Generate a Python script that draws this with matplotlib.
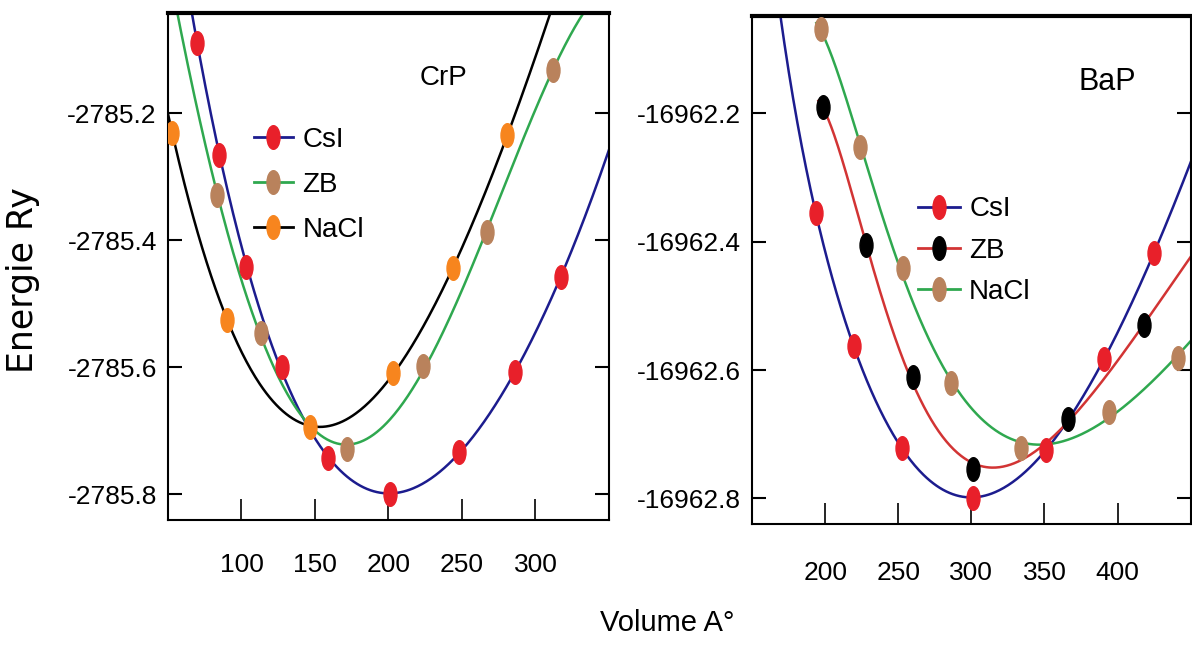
import numpy as np
import matplotlib.pyplot as plt
from matplotlib.path import Path
from matplotlib.lines import Line2D
from matplotlib.ticker import FormatStrFormatter
from numpy.polynomial import Polynomial

sans = ['Liberation Sans', 'DejaVu Sans']

# CrP : volume / energie
crp_csi_v = [70.0, 85.0, 103.4, 127.3, 158.7, 201.0, 248.1, 286.3, 317.1]
crp_csi_e = [-2785.089, -2785.266, -2785.442, -2785.600, -2785.743, -2785.800, -2785.734, -2785.607, -2785.458]
crp_zb_v = [83.6, 113.0, 171.7, 223.5, 267.2, 311.6]
crp_zb_e = [-2785.329, -2785.546, -2785.729, -2785.598, -2785.387, -2785.132]
crp_nacl_v = [52.9, 90.4, 146.4, 203.1, 244.0, 280.9]
crp_nacl_e = [-2785.231, -2785.525, -2785.694, -2785.609, -2785.444, -2785.234]

# BaP
bap_csi_v = [193.6, 219.5, 252.3, 301.4, 351.1, 390.7, 424.8]
bap_csi_e = [-16962.355, -16962.563, -16962.721, -16962.799, -16962.724, -16962.583, -16962.418]
bap_zb_v = [198.4, 227.7, 259.8, 301.4, 366.1, 418.0]
bap_zb_e = [-16962.190, -16962.405, -16962.611, -16962.754, -16962.676, -16962.530]
bap_nacl_v = [197.0, 223.6, 253.0, 286.4, 334.1, 394.1, 441.1]
bap_nacl_e = [-16962.069, -16962.253, -16962.441, -16962.620, -16962.721, -16962.665, -16962.581]

crp_xticks = [100, 150, 200, 250, 300]
crp_yticks = [-2785.2, -2785.4, -2785.6, -2785.8]
bap_xticks = [200, 250, 300, 350, 400]
bap_yticks = [-16962.2, -16962.4, -16962.6, -16962.8]

# marqueur ellipse (plus haut que large)
circ = Path.unit_circle()
ell = Path(circ.vertices * [0.55, 1.0], circ.codes)

navy = '#1c1c8e'
red = '#e8202a'
green = '#2fa84f'
brown = '#b9825c'
orange = '#f7851e'
redline = '#d23434'


def fit_curve(v, e, vmin, vmax, kind):
    v = np.array(v)
    vv = np.linspace(vmin, vmax, 400)
    if kind == 'bm':
        # polynome de degre 4 en V^(-2/3) (forme Birch-Murnaghan etendue)
        p = Polynomial.fit(v ** (-2.0 / 3), e, 4)
        return vv, p(vv ** (-2.0 / 3))
    p = Polynomial.fit(v, e, 4)
    return vv, p(vv)


def draw(ax, series, xlim, ylim, kind):
    # margin = prolongement de la courbe a gauche du premier point
    for v, e, lc, mc, margin in series:
        vv, ee = fit_curve(v, e, max(xlim[0], v[0] - margin), xlim[1], kind)
        ax.plot(vv, ee, color=lc, lw=1.8, zorder=2)
        ax.plot(v, e, ls='none', marker=ell, ms=17, color=mc, mec=mc, zorder=3)
    ax.set_xlim(*xlim)
    ax.set_ylim(*ylim)
    ax.tick_params(axis='x', direction='in', length=15, width=1.2, pad=24, labelsize=19)
    ax.tick_params(axis='y', direction='in', length=10, width=1.5, pad=8, labelsize=19,
                   right=True)
    for s in ['left', 'right', 'bottom']:
        ax.spines[s].set_linewidth(1.5)
    ax.spines['top'].set_linewidth(3)


plt.rcParams['font.family'] = sans
fig = plt.figure(figsize=(11.92, 6.48), dpi=100)
ax1 = fig.add_axes([0.1409, 0.1983, 0.3700, 0.7816])
ax2 = fig.add_axes([0.6309, 0.1914, 0.3680, 0.7839])

draw(ax1, [(crp_csi_v, crp_csi_e, navy, red, 100),
           (crp_zb_v, crp_zb_e, green, brown, 100),
           (crp_nacl_v, crp_nacl_e, 'black', orange, 100)],
     (50, 350), (-2785.840, -2785.042), 'poly')
ax1.set_xticks(crp_xticks)
ax1.set_yticks(crp_yticks)
ax1.yaxis.set_major_formatter(FormatStrFormatter('%.1f'))

draw(ax2, [(bap_csi_v, bap_csi_e, navy, red, 40),
           (bap_zb_v, bap_zb_e, redline, 'black', 3),
           (bap_nacl_v, bap_nacl_e, green, brown, 3)],
     (150, 450), (-16962.840, -16962.048), 'bm')
ax2.set_xticks(bap_xticks)
ax2.set_yticks(bap_yticks)
ax2.yaxis.set_major_formatter(FormatStrFormatter('%.1f'))
ax2.tick_params(axis='x', pad=27)


# legendes
def handles(items):
    return [Line2D([], [], color=lc, lw=2, marker=ell, ms=17, mfc=mc, mec=mc)
            for lc, mc in items]


ax1.legend(handles([(navy, red), (green, brown), ('black', orange)]),
           ['CsI', 'ZB', 'NaCl'], loc='upper left', bbox_to_anchor=(0.195, 0.775),
           frameon=False, borderpad=0, borderaxespad=0, handlelength=1.4,
           handletextpad=0.35, labelspacing=0.68, prop={'size': 20})
ax2.legend(handles([(navy, red), (redline, 'black'), (green, brown)]),
           ['CsI', 'ZB', 'NaCl'], loc='upper left', bbox_to_anchor=(0.378, 0.645),
           frameon=False, borderpad=0, borderaxespad=0, handlelength=1.5,
           handletextpad=0.35, labelspacing=0.55, prop={'size': 20})

ax1.text(0.624, 0.872, 'CrP', transform=ax1.transAxes, ha='center', va='center',
         fontsize=20)
ax2.text(0.81, 0.87, 'BaP', transform=ax2.transAxes, ha='center', va='center',
         fontsize=22)

fig.text(0.019, 0.568, 'Energie Ry', rotation=90, ha='center', va='center',
         fontsize=25, family='DejaVu Sans')
fig.text(0.5596, 0.0386, 'Volume A°', ha='center', va='center', fontsize=21)

fig.savefig('out.png', dpi=100)
